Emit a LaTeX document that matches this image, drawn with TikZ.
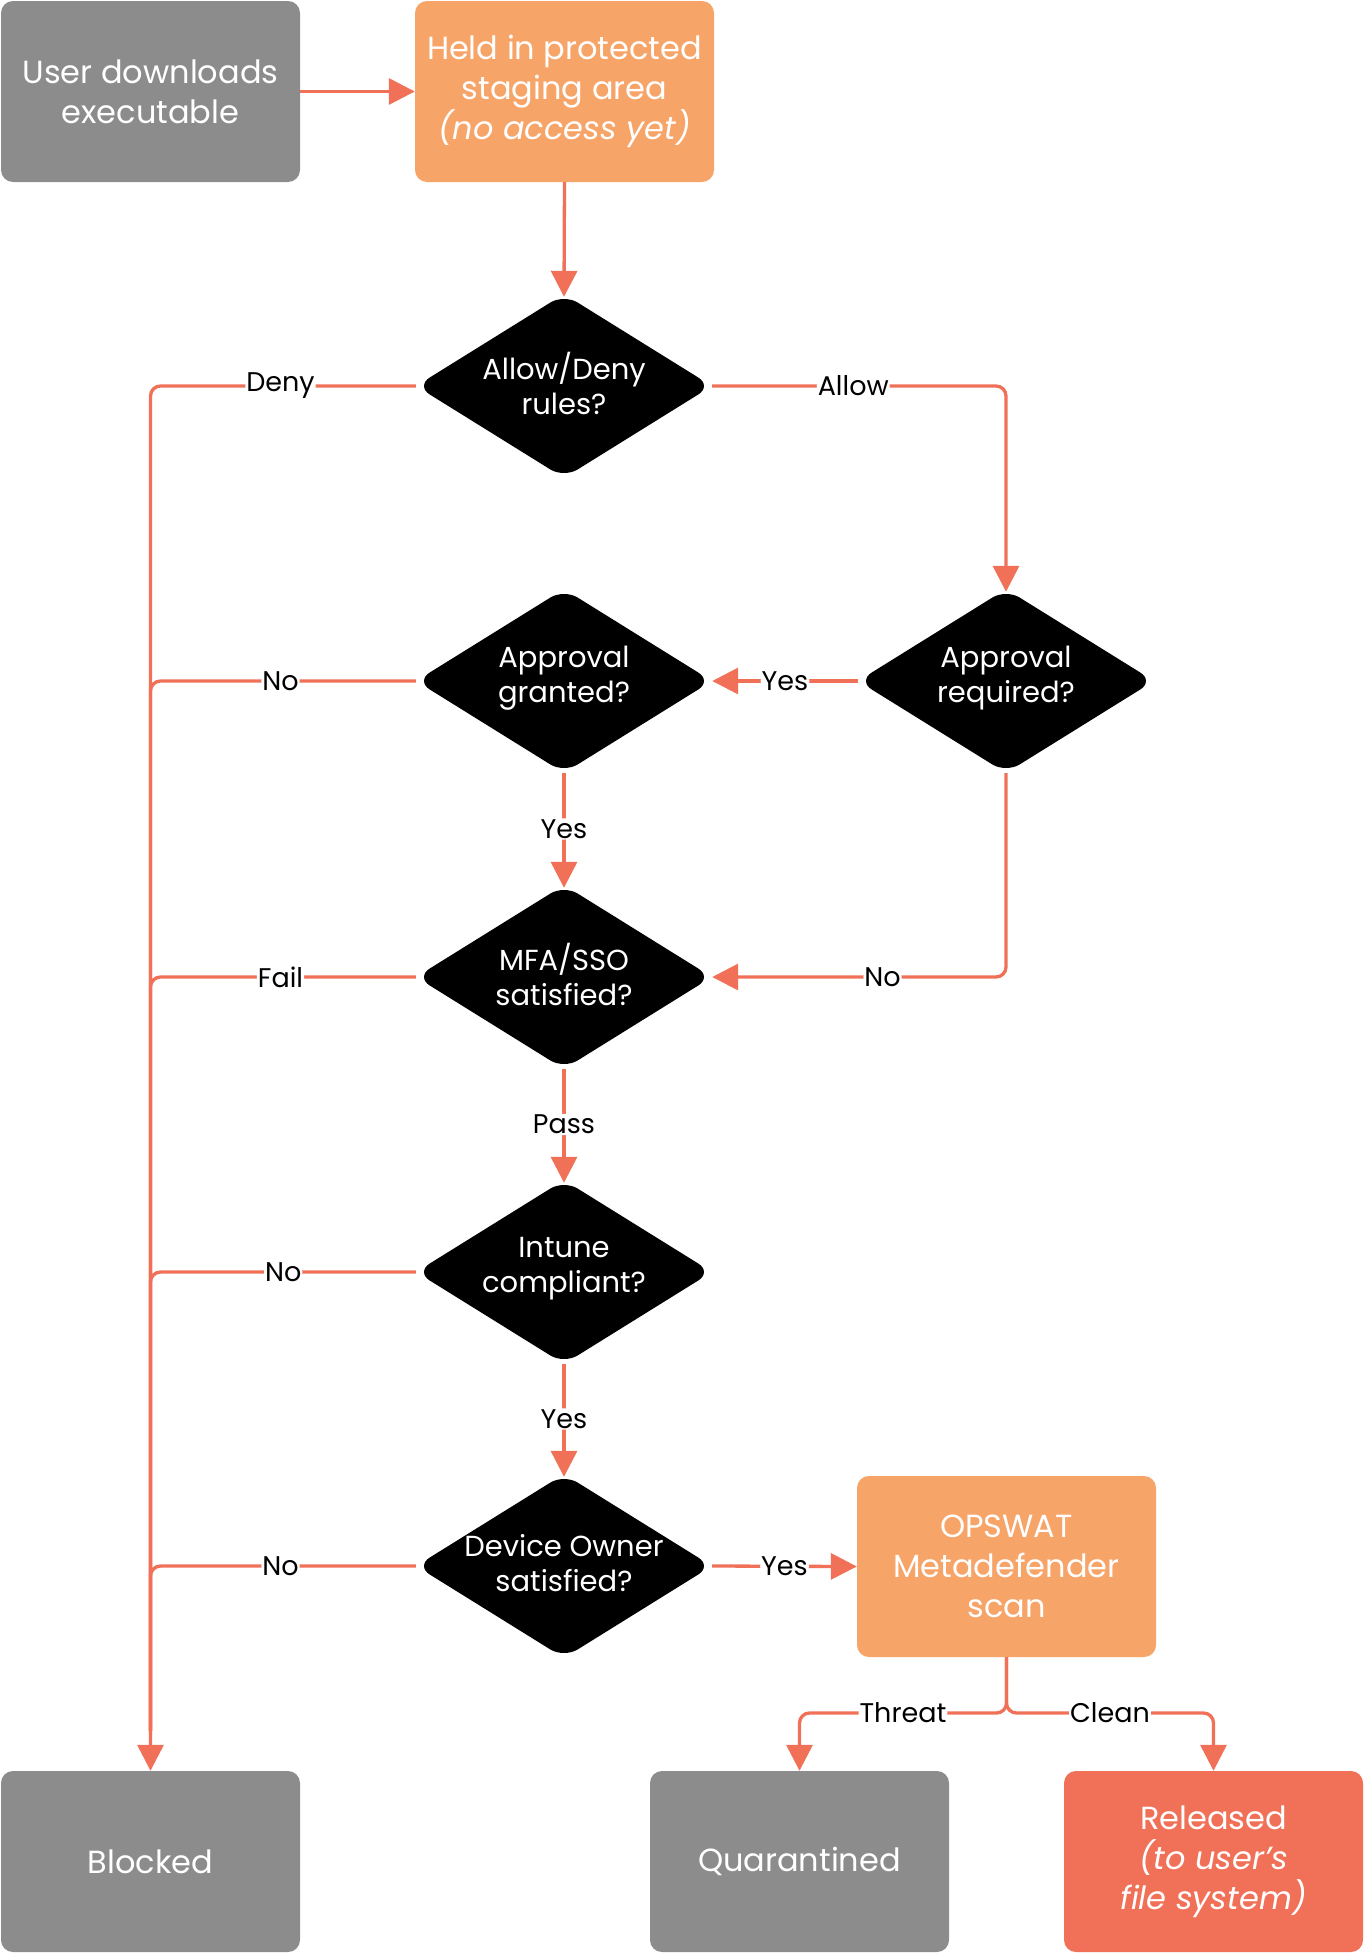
\documentclass[tikz,border=0pt]{standalone}
\usepackage{fontspec}
\setmainfont{Poppins}
\usetikzlibrary{shapes.geometric,arrows.meta}
\definecolor{boxgray}{HTML}{8C8C8C}
\definecolor{boxorange}{HTML}{F7A468}
\definecolor{linered}{HTML}{F07158}
\begin{document}
\begin{tikzpicture}[x=1pt,y=-1pt,
 box/.style={rectangle, rounded corners=12pt, minimum width=299pt, minimum height=181pt, inner sep=0pt, text=white, align=center, font=\fontsize{32}{40}\selectfont},
 dec/.style={diamond, fill=black, rounded corners=16pt, minimum width=296pt, minimum height=184pt, inner sep=0pt},
 dtext/.style={text=white, align=center, yshift=3pt, font=\fontsize{29}{35}\selectfont},
 conn/.style={draw=linered, line width=3.3pt, rounded corners=10pt},
 arr/.style={conn, -{Triangle[length=26pt,width=26pt]}},
 intotop/.style={shorten >=-3pt},
 lbl/.style={fill=white, inner sep=1pt, font=\fontsize{27}{32}\selectfont, text=black}]
\useasboundingbox (0,0) rectangle (1364,1954);
% boxes
\node[box, fill=boxgray] (user) at (150.5,91.5) {User downloads\\executable};
\node[box, fill=boxorange] (held) at (564.5,91.5) {Held in protected\\staging area\\\textit{(no access yet)}};
\node[box, fill=boxorange] (scan) at (1006.5,1566.5) {OPSWAT\\Metadefender\\scan};
\node[box, fill=boxgray] (blocked) at (150.5,1861.5) {Blocked};
\node[box, fill=boxgray] (quar) at (799.5,1861.5) {Quarantined};
\node[box, fill=linered] (rel) at (1213.5,1861.5) {Released\\\textit{(to user’s}\\\textit{file system)}};
% decisions
\node[dec] (rules) at (564,386) {};
\node[dtext] (rulesT) at (rules) {Allow/Deny\\rules?};
\node[dec] (granted) at (564,681) {};
\node[dtext] (grantedT) at (granted) {Approval\\granted?};
\node[dec] (required) at (1006,681) {};
\node[dtext] (requiredT) at (required) {Approval\\required?};
\node[dec] (mfa) at (564,977) {};
\node[dtext] (mfaT) at (mfa) {MFA/SSO\\satisfied?};
\node[dec] (intune) at (564,1272) {};
\node[dtext] (intuneT) at (intune) {Intune\\compliant?};
\node[dec] (owner) at (564,1566) {};
\node[dtext] (ownerT) at (owner) {Device Owner\\satisfied?};
\coordinate (split) at (1006.5,1713);
% connectors
\draw[arr] (user.east) -- (held.west);
\draw[arr, intotop] (held.south) -- (rules.north);
\draw[arr] (rules.west) -| node[lbl,pos=0.255]{Deny} (blocked.north);
\draw[arr, intotop] (rules.east) -| node[lbl,pos=0.24]{Allow} (required.north);
\draw[arr] (required.west) -- node[lbl]{Yes} (granted.east);
\draw[conn, shorten >=40pt] (granted.west) -| node[lbl,pos=0.255]{No} (blocked.north);
\draw[arr, intotop] (granted.south) -- node[lbl]{Yes} (mfa.north);
\draw[arr] (required.south) |- node[lbl,pos=0.71]{No} (mfa.east);
\draw[conn, shorten >=40pt] (mfa.west) -| node[lbl,pos=0.255]{Fail} (blocked.north);
\draw[arr, intotop] (mfa.south) -- node[lbl]{Pass} (intune.north);
\draw[conn, shorten >=40pt] (intune.west) -| node[lbl,pos=0.25]{No} (blocked.north);
\draw[arr, intotop] (intune.south) -- node[lbl]{Yes} (owner.north);
\draw[conn, shorten >=40pt] (owner.west) -| node[lbl,pos=0.255]{No} (blocked.north);
\draw[arr] (owner.east) -- node[lbl]{Yes} (scan.west);
\draw[arr] (scan.south) -- (split) -| node[lbl,pos=0.25]{Threat} (quar.north);
\draw[arr] (scan.south) -- (split) -| node[lbl,pos=0.25]{Clean} (rel.north);
\end{tikzpicture}
\end{document}
